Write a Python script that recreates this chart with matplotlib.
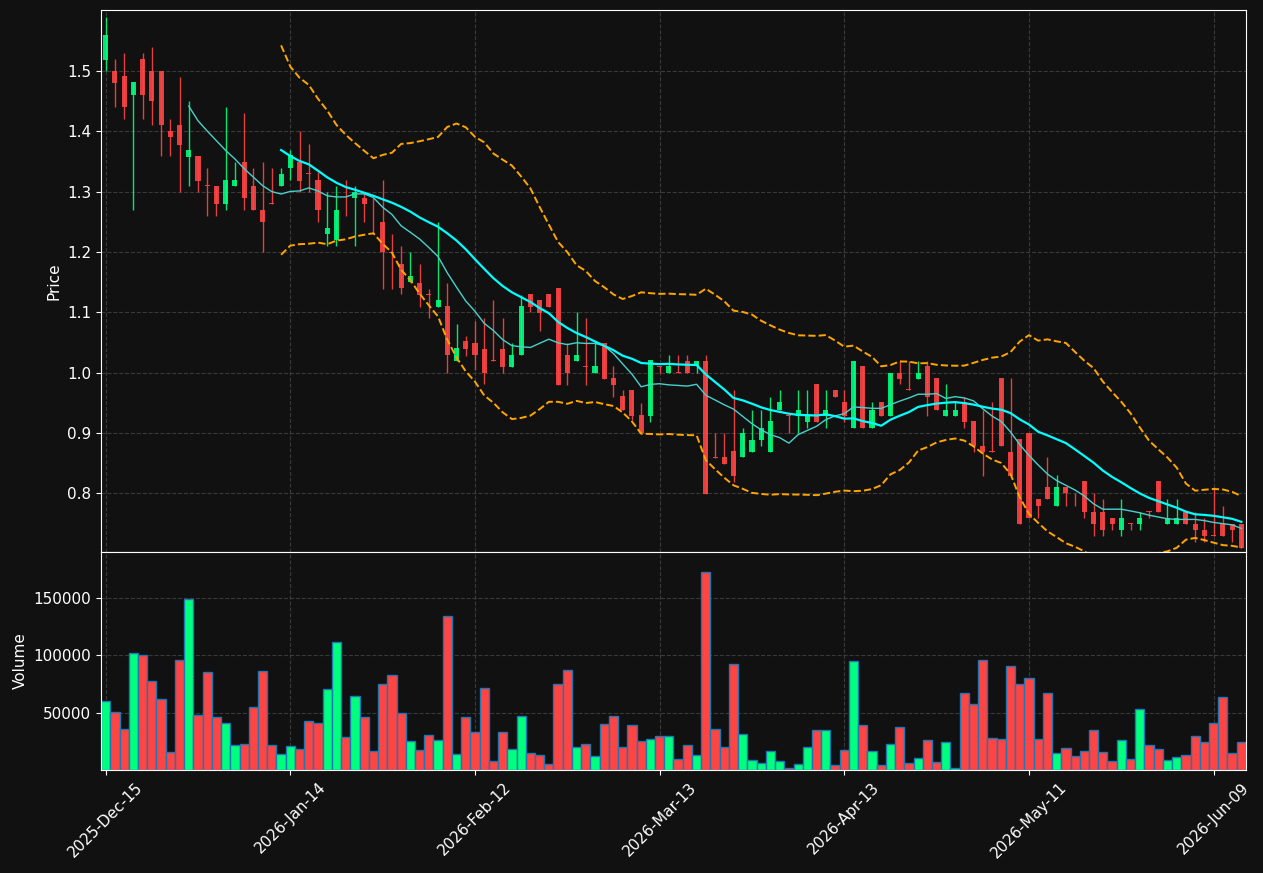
import matplotlib
matplotlib.use("Agg")
import matplotlib.pyplot as plt
import numpy as np
import pandas as pd

# OHLC values, one per trading bar
opens = [1.519, 1.500, 1.491, 1.460, 1.520, 1.500, 1.500, 1.400, 1.411, 1.358,
         1.359, 1.310, 1.310, 1.279, 1.309, 1.349, 1.309, 1.270, 1.280, 1.309,
         1.339, 1.350, 1.330, 1.320, 1.230, 1.220, 1.270, 1.289, 1.290, 1.270,
         1.250, 1.200, 1.181, 1.150, 1.149, 1.130, 1.109, 1.110, 1.020, 1.052,
         1.050, 1.040, 1.021, 1.040, 1.010, 1.029, 1.130, 1.120, 1.130, 1.140,
         1.030, 1.020, 1.010, 1.000, 1.050, 0.991, 0.962, 0.971, 0.930, 0.929,
         1.011, 1.000, 1.001, 1.020, 1.011, 1.020, 0.860, 0.860, 0.870, 0.860,
         0.869, 0.889, 0.869, 0.939, 0.930, 0.928, 0.918, 0.981, 0.928, 0.971,
         0.951, 0.909, 1.011, 0.909, 0.951, 0.928, 1.000, 0.972, 0.989, 1.011,
         0.991, 0.928, 0.928, 0.951, 0.920, 0.879, 0.870, 0.991, 0.869, 0.890,
         0.900, 0.790, 0.810, 0.779, 0.810, 0.791, 0.820, 0.770, 0.770, 0.760,
         0.740, 0.751, 0.750, 0.771, 0.820, 0.750, 0.750, 0.770, 0.750, 0.740,
         0.731, 0.750, 0.750, 0.750]
highs = [1.589, 1.520, 1.530, 1.481, 1.530, 1.540, 1.500, 1.420, 1.490, 1.450,
         1.359, 1.339, 1.310, 1.440, 1.349, 1.430, 1.339, 1.349, 1.339, 1.339,
         1.369, 1.400, 1.379, 1.332, 1.300, 1.309, 1.320, 1.310, 1.300, 1.290,
         1.320, 1.230, 1.210, 1.200, 1.181, 1.139, 1.250, 1.149, 1.081, 1.061,
         1.085, 1.090, 1.120, 1.090, 1.050, 1.129, 1.130, 1.120, 1.130, 1.140,
         1.050, 1.100, 1.090, 1.050, 1.050, 1.011, 0.971, 0.971, 0.950, 1.021,
         1.011, 1.030, 1.030, 1.030, 1.020, 1.030, 0.900, 0.900, 0.971, 0.909,
         0.939, 0.939, 0.960, 0.971, 0.930, 0.971, 0.971, 0.981, 0.971, 0.971,
         0.971, 1.020, 1.011, 0.951, 0.951, 1.000, 1.020, 1.020, 1.020, 1.020,
         0.991, 0.981, 0.951, 0.960, 0.920, 0.939, 0.951, 0.991, 0.991, 0.890,
         0.900, 0.790, 0.860, 0.830, 0.810, 0.800, 0.820, 0.800, 0.790, 0.760,
         0.790, 0.751, 0.770, 0.771, 0.820, 0.790, 0.790, 0.770, 0.770, 0.760,
         0.810, 0.780, 0.750, 0.750]
lows = [1.500, 1.440, 1.420, 1.269, 1.420, 1.410, 1.359, 1.359, 1.300, 1.309,
        1.300, 1.259, 1.259, 1.269, 1.309, 1.269, 1.269, 1.200, 1.279, 1.309,
        1.320, 1.300, 1.300, 1.250, 1.210, 1.210, 1.260, 1.210, 1.250, 1.230,
        1.139, 1.139, 1.131, 1.150, 1.109, 1.090, 1.109, 1.000, 1.020, 1.027,
        1.005, 0.981, 1.020, 1.000, 1.010, 1.029, 1.100, 1.070, 1.109, 0.980,
        0.980, 1.020, 0.980, 1.000, 0.990, 0.960, 0.938, 0.922, 0.900, 0.919,
        1.000, 1.000, 1.000, 1.000, 1.000, 0.799, 0.859, 0.849, 0.819, 0.860,
        0.869, 0.879, 0.869, 0.939, 0.900, 0.900, 0.909, 0.918, 0.909, 0.960,
        0.918, 0.909, 0.909, 0.909, 0.928, 0.928, 0.981, 0.971, 0.989, 0.928,
        0.939, 0.928, 0.928, 0.909, 0.869, 0.829, 0.869, 0.879, 0.829, 0.750,
        0.760, 0.760, 0.790, 0.779, 0.779, 0.779, 0.760, 0.730, 0.730, 0.740,
        0.730, 0.740, 0.740, 0.760, 0.770, 0.750, 0.750, 0.750, 0.720, 0.720,
        0.730, 0.730, 0.720, 0.710]
closes = [1.560, 1.480, 1.440, 1.481, 1.460, 1.450, 1.410, 1.390, 1.378, 1.369,
          1.318, 1.309, 1.279, 1.320, 1.320, 1.289, 1.269, 1.249, 1.279, 1.330,
          1.360, 1.318, 1.329, 1.269, 1.240, 1.270, 1.269, 1.300, 1.279, 1.269,
          1.200, 1.199, 1.140, 1.161, 1.129, 1.129, 1.120, 1.030, 1.041, 1.040,
          1.029, 1.000, 1.020, 1.010, 1.030, 1.110, 1.109, 1.099, 1.109, 0.980,
          1.000, 1.030, 1.009, 1.011, 0.990, 0.980, 0.938, 0.929, 0.900, 1.021,
          1.010, 1.011, 1.000, 1.000, 1.020, 0.799, 0.859, 0.849, 0.829, 0.900,
          0.889, 0.909, 0.920, 0.951, 0.929, 0.939, 0.930, 0.918, 0.939, 0.960,
          0.928, 1.020, 0.909, 0.939, 0.928, 1.000, 0.989, 0.971, 1.000, 0.960,
          0.939, 0.939, 0.939, 0.918, 0.879, 0.869, 0.869, 0.879, 0.829, 0.750,
          0.760, 0.779, 0.790, 0.810, 0.800, 0.790, 0.770, 0.750, 0.740, 0.750,
          0.760, 0.750, 0.760, 0.770, 0.770, 0.760, 0.760, 0.750, 0.740, 0.730,
          0.730, 0.730, 0.740, 0.710]
volumes = [60200, 50900, 36000, 101800, 100000, 77200, 62300, 15800, 95600, 149100,
           48200, 85100, 46500, 41200, 21900, 22800, 55300, 86000, 21900, 14000,
           21100, 18400, 43000, 41200, 70200, 111400, 28900, 64900, 46500, 16700,
           74600, 82500, 50000, 25400, 17500, 30700, 26300, 134200, 14000, 46500,
           33300, 71900, 7900, 33300, 18400, 47400, 14900, 13200, 5300, 75400,
           86800, 20200, 22800, 12300, 40400, 47400, 20200, 39500, 25400, 27200,
           29800, 29800, 9600, 21900, 13200, 172800, 36000, 20200, 92100, 31600,
           8800, 6100, 16700, 7900, 1800, 5300, 20200, 35100, 35100, 4400,
           17500, 94700, 39500, 16700, 4400, 22800, 37700, 6100, 10500, 26300,
           7000, 24600, 1800, 66700, 57900, 95600, 28100, 27200, 90400, 75400,
           79800, 27200, 66700, 14900, 19300, 12300, 16700, 35100, 15800, 7900,
           26300, 9600, 53500, 21900, 18400, 8800, 11400, 13200, 29800, 24600,
           41200, 64000, 14900, 24600]

tick_pos = [0, 20, 40, 60, 80, 100, 120]
tick_labels = ['2025-Dec-15', '2026-Jan-14', '2026-Feb-12', '2026-Mar-13',
               '2026-Apr-13', '2026-May-11', '2026-Jun-09']

BG = '#111111'
UP = '#00ff7f'
DOWN = '#ff4444'

df = pd.DataFrame({'open': opens, 'high': highs, 'low': lows,
                   'close': closes, 'volume': volumes})
x = np.arange(len(df))
up = df['close'] > df['open']
colors = np.where(up, UP, DOWN)

sma10 = df['close'].rolling(10).mean()
sma20 = df['close'].rolling(20).mean()
std20 = df['close'].rolling(20).std()
bb_up = sma20 + 2 * std20
bb_lo = sma20 - 2 * std20

fig = plt.figure(figsize=(12.63, 8.73), dpi=100, facecolor=BG)
ax = fig.add_axes([0.080, 0.3677, 0.9065, 0.6208])
axv = fig.add_axes([0.080, 0.118, 0.9065, 0.2497], sharex=ax)

for a in (ax, axv):
    a.set_facecolor(BG)
    for s in a.spines.values():
        s.set_color('white')
    a.tick_params(colors='white', labelsize=11)
    a.grid(True, linestyle='--', color='#444444', linewidth=0.8, alpha=0.8)
    a.set_axisbelow(True)

# candles
ax.vlines(x, df['low'], df['high'], colors=colors, linewidth=1, alpha=0.9)
body_h = np.maximum((df['close'] - df['open']).abs(), 0.0015)
body_b = np.minimum(df['open'], df['close'])
ax.bar(x, body_h, bottom=body_b, width=0.55, color=colors, alpha=0.9, linewidth=0)

ax.plot(x, sma10, color='mediumturquoise', linewidth=1)
ax.plot(x, sma20, color='cyan', linewidth=1.6)
ax.plot(x, bb_up, color='orange', linestyle='--', linewidth=1.4)
ax.plot(x, bb_lo, color='orange', linestyle='--', linewidth=1.4)

ax.set_ylim(0.703, 1.601)
ax.set_yticks([0.8, 0.9, 1.0, 1.1, 1.2, 1.3, 1.4, 1.5])
ax.set_ylabel('Price', color='white', fontsize=11)
ax.tick_params(axis='x', labelbottom=False, length=0)

# volume
axv.bar(x, df['volume'], width=1.0, color=colors, edgecolor='#1f77b4', linewidth=1)
axv.set_ylim(0, df['volume'].max() * 1.1)
axv.set_yticks([50000, 100000, 150000])
axv.set_ylabel('Volume', color='white', fontsize=11)
axv.set_xlim(-0.5, len(df) - 0.5)
axv.set_xticks(tick_pos)
axv.set_xticklabels(tick_labels, rotation=45)

fig.savefig('out.png', dpi=100, facecolor=BG)
